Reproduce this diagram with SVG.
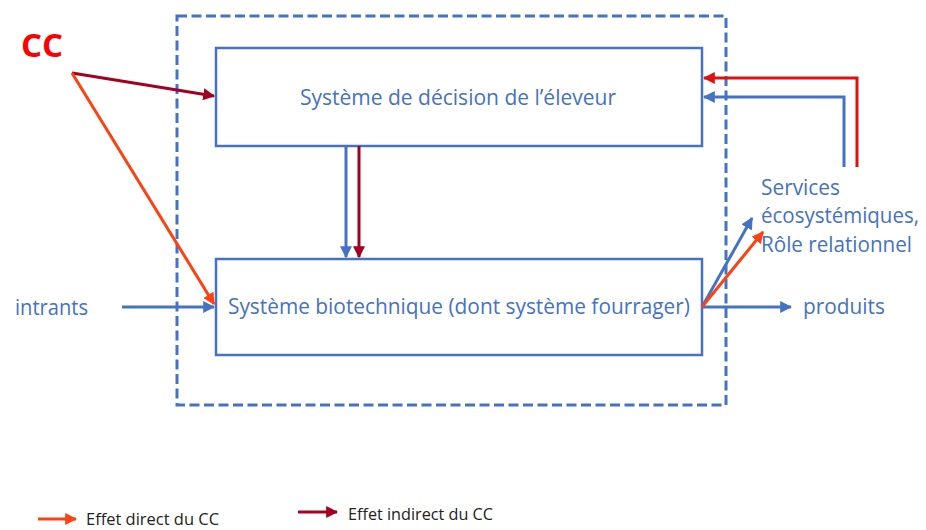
<svg xmlns="http://www.w3.org/2000/svg" width="926" height="530" viewBox="0 0 926 530">
<style>
.t{font-family:"Open Sans","Liberation Sans",sans-serif;fill:#4472C4;font-size:22px}
.s{font-size:21px}
.b{fill:#fff;stroke:#4472C4;stroke-width:2.5}
.blue{stroke:#4472C4;stroke-width:3;fill:none}
.red{stroke:#E01010;stroke-width:3;fill:none}
.dred{stroke:#A50021;stroke-width:3;fill:none}
.or{stroke:#FF4010;stroke-width:3;fill:none}
.lg{font-family:"Open Sans","Liberation Sans",sans-serif;fill:#222;font-size:17px}
</style>
<defs>
<marker id="ab" viewBox="0 0 10 10" refX="9" refY="5" markerWidth="4" markerHeight="4" orient="auto" markerUnits="strokeWidth"><path d="M0,0L10,5L0,10z" fill="#4472C4"/></marker>
<marker id="ar" viewBox="0 0 10 10" refX="9" refY="5" markerWidth="4" markerHeight="4" orient="auto" markerUnits="strokeWidth"><path d="M0,0L10,5L0,10z" fill="#E01010"/></marker>
<marker id="ad" viewBox="0 0 10 10" refX="9" refY="5" markerWidth="4" markerHeight="4" orient="auto" markerUnits="strokeWidth"><path d="M0,0L10,5L0,10z" fill="#A50021"/></marker>
<marker id="ao" viewBox="0 0 10 10" refX="9" refY="5" markerWidth="4" markerHeight="4" orient="auto" markerUnits="strokeWidth"><path d="M0,0L10,5L0,10z" fill="#FF4010"/></marker>
</defs>
<rect width="926" height="530" fill="#fff"/>
<g id="exploitation"><rect x="177" y="16" width="549" height="389" fill="none" stroke="#4472C4" stroke-width="3" stroke-dasharray="10,4.5"/></g>
<g id="decision"><rect class="b" x="216" y="48" width="486" height="98"/><text class="t" x="300" y="105" textLength="316" lengthAdjust="spacingAndGlyphs">Système de décision de l’éleveur</text></g>
<g id="biotech"><rect class="b" x="216" y="259" width="486" height="96"/><text class="t" x="228" y="314" textLength="462" lengthAdjust="spacingAndGlyphs">Système biotechnique (dont système fourrager)</text></g>
<g id="cc"><text x="21" y="57" font-family="'Open Sans','Liberation Sans',sans-serif" font-weight="bold" font-size="33" fill="#FF0000">CC</text></g>
<g id="intrants"><text class="t" x="15" y="315" textLength="73" lengthAdjust="spacingAndGlyphs">intrants</text></g>
<g id="produits"><text class="t" x="803" y="314" textLength="82" lengthAdjust="spacingAndGlyphs">produits</text></g>
<g id="services"><text class="t s" x="761" y="195" textLength="79" lengthAdjust="spacingAndGlyphs">Services</text><text class="t s" x="761" y="223" textLength="158" lengthAdjust="spacingAndGlyphs">écosystémiques,</text><text class="t s" x="761" y="252" textLength="151" lengthAdjust="spacingAndGlyphs">Rôle relationnel</text></g>
<g id="connectors">
<path class="dred" d="M72,73L214,96" marker-end="url(#ad)"/>
<path class="or" d="M72,73L214,304" marker-end="url(#ao)"/>
<path class="blue" d="M346,146L346,257" marker-end="url(#ab)"/>
<path class="dred" d="M359,146L359,257" marker-end="url(#ad)"/>
<path class="red" d="M857,167L857,78L704,78" marker-end="url(#ar)"/>
<path class="blue" d="M844,167L844,97L704,97" marker-end="url(#ab)"/>
<path class="blue" d="M122,307L214,307" marker-end="url(#ab)"/>
<path class="blue" d="M702,307L791,307" marker-end="url(#ab)"/>
<path class="blue" d="M702,307L752,218" marker-end="url(#ab)"/>
<path class="or" d="M702,307L763,232" marker-end="url(#ao)"/>
</g>
<g id="legend">
<path class="or" d="M38,519L76,519" marker-end="url(#ao)"/>
<text class="lg" x="86" y="525" textLength="133" lengthAdjust="spacingAndGlyphs">Effet direct du CC</text>
<path class="dred" d="M298,512L337,512" marker-end="url(#ad)"/>
<text class="lg" x="348" y="520" textLength="145" lengthAdjust="spacingAndGlyphs">Effet indirect du CC</text>
</g>
</svg>
